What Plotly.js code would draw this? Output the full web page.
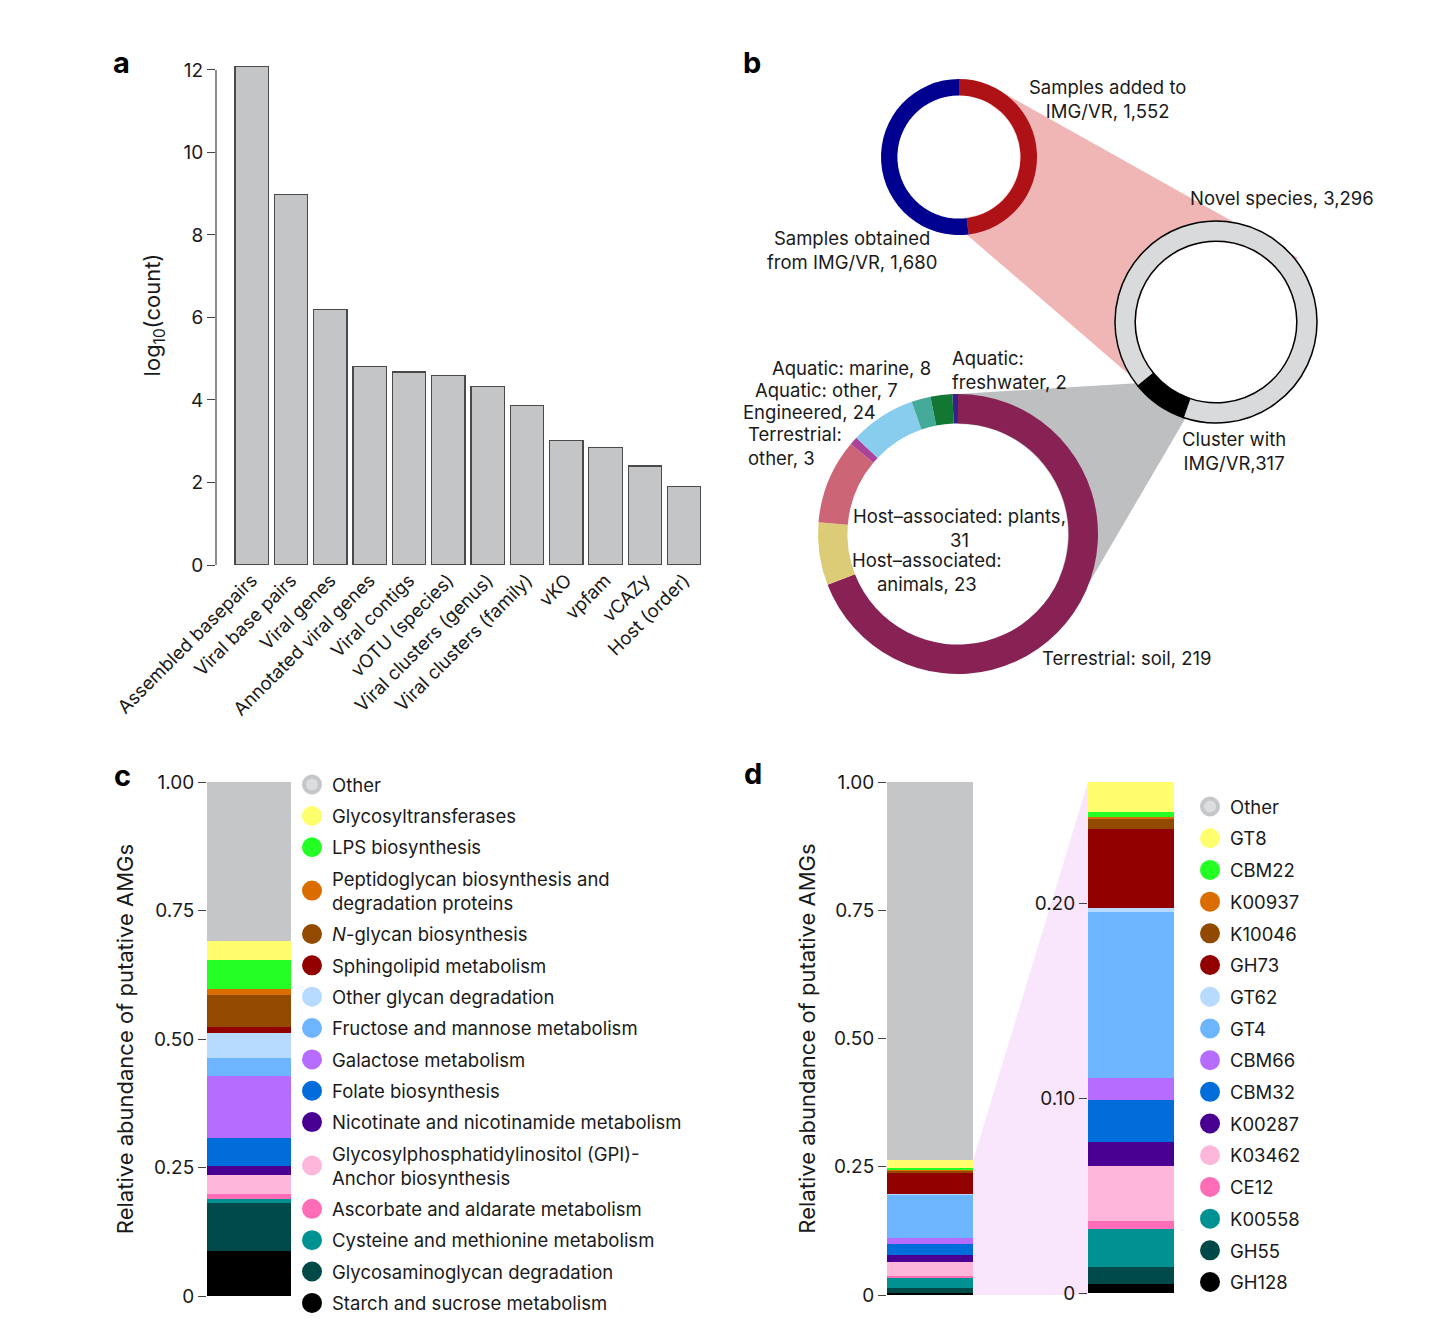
<!DOCTYPE html>
<html><head><meta charset="utf-8">
<script src="https://cdn.plot.ly/plotly-3.0.1.min.js"></script>
<style>html,body{margin:0;padding:0;background:#fff}#chart{width:1434px;height:1332px}</style>
</head><body><div id="chart"></div>
<script>
// ---------- DATA ----------
// Panel a
const aCategories = ["Assembled basepairs","Viral base pairs","Viral genes","Annotated viral genes","Viral contigs","vOTU (species)","Viral clusters (genus)","Viral clusters (family)","vKO","vpfam","vCAZy","Host (order)"];
const aLog10Count = [12.09, 8.98, 6.19, 4.82, 4.68, 4.59, 4.32, 3.87, 3.02, 2.84, 2.40, 1.91];
const aTicks = [0, 2, 4, 6, 8, 10, 12];

// Panel b
const sampleLabels = ["Samples added to IMG/VR", "Samples obtained from IMG/VR"];
const sampleCounts = [1552, 1680];
const sampleColors = ["#AE1116", "#000090"];
const speciesLabels = ["Cluster with IMG/VR", "Novel species"];
const speciesCounts = [317, 3296];
const speciesColors = ["#000000", "#D9DADC"];
const ecoLabels = ["Terrestrial: soil","Host–associated: animals","Host–associated: plants","Terrestrial: other","Engineered","Aquatic: other","Aquatic: marine","Aquatic: freshwater"];
const ecoCounts = [219, 23, 31, 3, 24, 7, 8, 2];
const ecoColors = ["#882255","#DDCC77","#CC6677","#AA4499","#88CCEE","#44AA99","#117733","#332288"];

// Panel c
const cCategories = ["Other","Glycosyltransferases","LPS biosynthesis","Peptidoglycan biosynthesis and<br>degradation proteins","<i>N</i>-glycan biosynthesis","Sphingolipid metabolism","Other glycan degradation","Fructose and mannose metabolism","Galactose metabolism","Folate biosynthesis","Nicotinate and nicotinamide metabolism","Glycosylphosphatidylinositol (GPI)-<br>Anchor biosynthesis","Ascorbate and aldarate metabolism","Cysteine and methionine metabolism","Glycosaminoglycan degradation","Starch and sucrose metabolism"];
const cValues = [0.309, 0.038, 0.055, 0.013, 0.061, 0.013, 0.047, 0.036, 0.120, 0.056, 0.016, 0.038, 0.009, 0.008, 0.094, 0.087];

// Panel d
const dCategories = ["Other","GT8","CBM22","K00937","K10046","GH73","GT62","GT4","CBM66","CBM32","K00287","K03462","CE12","K00558","GH55","GH128"];
const dValues = [0.7378, 0.0156, 0.0026, 0.0005, 0.0053, 0.0404, 0.0025, 0.0851, 0.0114, 0.0211, 0.0125, 0.0281, 0.0042, 0.0195, 0.0090, 0.0044];

const palette = ["#C5C6C8","#FFFF6D","#24FF24","#DB6D00","#924900","#920000","#B6DBFF","#6DB6FF","#B66DFF","#006DDB","#490092","#FFB6DB","#FF6DB6","#009292","#004949","#000000"];
const legendPalette = ["#DCDDDF","#FFFF6D","#24FF24","#DB6D00","#924900","#920000","#B6DBFF","#6DB6FF","#B66DFF","#006DDB","#490092","#FFB6DB","#FF6DB6","#009292","#004949","#000000"];

const cTickVals = [0, 0.25, 0.5, 0.75, 1];
const cTickText = ["0", "0.25", "0.50", "0.75", "1.00"];
const dZoomTickVals = [0, 0.1, 0.2];
const dZoomTickText = ["0", "0.10", "0.20"];

// ---------- HELPERS ----------
const W = 1434, H = 1332;
const px = x => x / W;
const py = y => 1 - y / H;
const FONT = 'Inter, "Noto Sans", "DejaVu Sans", sans-serif';
const TXT = '#1a1a1a';
const FS = 18.5;

const traces = [];

// Panel a bars
traces.push({
  type: 'bar', x: aCategories, y: aLog10Count, width: 0.85,
  marker: {color: '#C4C5C7', line: {color: '#4a4a4a', width: 1.2}},
  xaxis: 'x', yaxis: 'y', showlegend: false, hoverinfo: 'x+y'
});

// Panel b donuts
const pieCommon = {type: 'pie', sort: false, direction: 'clockwise', textinfo: 'none', showlegend: false, hoverinfo: 'label+value'};
traces.push(Object.assign({}, pieCommon, {
  labels: sampleLabels, values: sampleCounts, hole: 0.79, rotation: 0,
  marker: {colors: sampleColors},
  domain: {x: [px(881), px(1037)], y: [py(235), py(79)]}
}));
traces.push(Object.assign({}, pieCommon, {
  labels: speciesLabels, values: speciesCounts, hole: 0.8, rotation: 199,
  marker: {colors: speciesColors, line: {color: '#000', width: 1.5}},
  domain: {x: [px(1115), px(1317)], y: [py(423), py(221)]}
}));
traces.push(Object.assign({}, pieCommon, {
  labels: ecoLabels, values: ecoCounts, hole: 0.79, rotation: 0,
  marker: {colors: ecoColors},
  domain: {x: [px(818), px(1098)], y: [py(674), py(394)]}
}));

// Panel c stacked bar (bottom first)
for (let i = cCategories.length - 1; i >= 0; i--) {
  traces.push({type: 'bar', x: ['c'], y: [cValues[i]], width: 1, name: cCategories[i],
    marker: {color: palette[i]}, xaxis: 'x2', yaxis: 'y2', showlegend: false});
}
// Panel d left bar
for (let i = dCategories.length - 1; i >= 0; i--) {
  traces.push({type: 'bar', x: ['d'], y: [dValues[i]], width: 1, name: dCategories[i],
    marker: {color: palette[i]}, xaxis: 'x3', yaxis: 'y3', showlegend: false});
}
// Panel d zoomed bar (without Other)
for (let i = dCategories.length - 1; i >= 1; i--) {
  traces.push({type: 'bar', x: ['z'], y: [dValues[i]], width: 1, name: dCategories[i],
    marker: {color: palette[i]}, xaxis: 'x4', yaxis: 'y4', showlegend: false});
}
const zoomTotal = dValues.slice(1).reduce((a, b) => a + b, 0);

// Legend entries
function legendEntry(name, i, legend, xa, ya) {
  const col = legendPalette[i];
  return {type: 'scatter', mode: 'markers', x: [null], y: [null], name: name,
    legend: legend, legendgroup: legend + i, xaxis: xa, yaxis: ya,
    marker: {symbol: 'circle', size: 16, color: col, line: {color: i === 0 ? '#C6C7C9' : col, width: 4}},
    showlegend: true, hoverinfo: 'skip'};
}
cCategories.forEach((n, i) => traces.push(legendEntry(n, i, 'legend', 'x2', 'y2')));
dCategories.forEach((n, i) => traces.push(legendEntry(n, i, 'legend2', 'x3', 'y3')));

// ---------- LAYOUT ----------
const hidden = {visible: false, showgrid: false, zeroline: false, range: [-0.5, 0.5]};
const yBase = {showgrid: false, zeroline: false, ticks: 'outside', ticklen: 8, tickcolor: '#444', tickwidth: 1.2,
  tickfont: {size: 19, color: TXT}, showline: false, fixedrange: true};

function ann(text, x, y, xanchor, align, extra) {
  return Object.assign({text: text, x: px(x), y: py(y), xref: 'paper', yref: 'paper', showarrow: false,
    xanchor: xanchor, yanchor: 'middle', align: align, font: {size: FS, color: TXT, family: FONT}}, extra || {});
}
function circ(cx, cy, r) {
  return {type: 'circle', xref: 'paper', yref: 'paper', layer: 'below', x0: px(cx - r), x1: px(cx + r),
    y0: py(cy + r), y1: py(cy - r), fillcolor: '#fff', line: {width: 0}};
}
function poly(pts, color) {
  const d = pts.map((p, k) => (k ? 'L' : 'M') + px(p[0]) + ',' + py(p[1])).join(' ') + ' Z';
  return {type: 'path', path: d, xref: 'paper', yref: 'paper', layer: 'below', fillcolor: color, line: {width: 0}};
}
const legendCommon = {xanchor: 'left', yanchor: 'top', traceorder: 'grouped',
  itemwidth: 30, font: {size: FS, color: TXT, family: FONT}, bgcolor: 'rgba(0,0,0,0)', itemclick: false, itemdoubleclick: false};
const bold = t => ann('<b>' + t[0] + '</b>', t[1], t[2], 'center', 'center', {font: {size: 29, color: '#000', family: FONT}});

const layout = {
  width: W, height: H, margin: {l: 0, r: 0, t: 0, b: 0},
  paper_bgcolor: '#fff', plot_bgcolor: 'rgba(0,0,0,0)',
  font: {family: FONT, size: FS, color: TXT},
  barmode: 'stack', showlegend: true, hovermode: 'closest',
  xaxis: {domain: [px(216), px(705)], range: [-0.91, 11.53], type: 'category', tickangle: -45,
    ticks: '', showline: false, showgrid: false, zeroline: false, tickfont: {size: 18.5, color: TXT}, anchor: 'y', fixedrange: true},
  yaxis: Object.assign({}, yBase, {domain: [py(565), py(65)], range: [0, 12.12], tickvals: aTicks, anchor: 'x',
    title: {text: 'log<sub>10</sub>(count)', font: {size: 22, color: TXT}, standoff: 16}}),
  xaxis2: Object.assign({}, hidden, {domain: [px(207), px(291)], anchor: 'y2'}),
  yaxis2: Object.assign({}, yBase, {domain: [py(1296), py(782)], range: [0, 1], tickvals: cTickVals, ticktext: cTickText, anchor: 'x2',
    title: {text: 'Relative abundance of putative AMGs', font: {size: 22, color: TXT}, standoff: 14}}),
  xaxis3: Object.assign({}, hidden, {domain: [px(887), px(973)], anchor: 'y3'}),
  yaxis3: Object.assign({}, yBase, {domain: [py(1295), py(782)], range: [0, 1], tickvals: cTickVals, ticktext: cTickText, anchor: 'x3',
    title: {text: 'Relative abundance of putative AMGs', font: {size: 22, color: TXT}, standoff: 12}}),
  xaxis4: Object.assign({}, hidden, {domain: [px(1088), px(1174)], anchor: 'y4'}),
  yaxis4: Object.assign({}, yBase, {domain: [py(1293), py(782)], range: [0, zoomTotal], tickvals: dZoomTickVals, ticktext: dZoomTickText, anchor: 'x4'}),
  legend: Object.assign({x: px(292), y: py(766), tracegroupgap: 4.3}, legendCommon),
  legend2: Object.assign({x: px(1190), y: py(788), tracegroupgap: 4.65}, legendCommon),
  shapes: [
    // panel a y-axis line, from 0 to 12
    {type: 'line', xref: 'paper', yref: 'y', x0: px(216), x1: px(216), y0: 0, y1: aTicks[aTicks.length - 1],
      line: {color: '#444', width: 1.2}},
    poly([[1000, 91], [1298, 258], [1140, 384], [966, 234], [960, 157]], '#F0B6B5'),
    poly([[958, 394], [1140, 383], [1185, 419], [1085, 590], [958, 534]], '#BEBFC1'),
    circ(959, 157, 61), circ(1216, 322, 80), circ(958, 534, 110),
    {type: 'path', xref: 'paper', yref: 'y3', layer: 'below', fillcolor: '#FAE6FC', line: {width: 0},
      path: 'M' + px(973) + ',' + (1 - dValues[0]) + ' L' + px(1088) + ',1 L' + px(1088) + ',0 L' + px(973) + ',0 Z'}
  ],
  annotations: [
    bold(['a', 121, 63]), bold(['b', 752, 63]), bold(['c', 122, 775]), bold(['d', 753, 773]),
    ann('Samples added to<br>IMG/VR, ' + sampleCounts[0].toLocaleString('en-US'), 1107, 99, 'center', 'center'),
    ann('Samples obtained<br>from IMG/VR, ' + sampleCounts[1].toLocaleString('en-US'), 852, 250, 'center', 'center'),
    ann('Novel species, ' + speciesCounts[1].toLocaleString('en-US'), 1282, 198, 'center', 'center'),
    ann('Cluster with<br>IMG/VR,' + speciesCounts[0], 1234, 451, 'center', 'center'),
    ann('Aquatic: marine, ' + ecoCounts[6], 933, 368, 'right', 'right'),
    ann('Aquatic: other, ' + ecoCounts[5], 900, 390, 'right', 'right'),
    ann('Engineered, ' + ecoCounts[4], 878, 412, 'right', 'right'),
    ann('Terrestrial:<br>other, ' + ecoCounts[3], 746, 446, 'left', 'left'),
    ann('Aquatic:<br>freshwater, ' + ecoCounts[7], 950, 370, 'left', 'left'),
    ann('Host–associated: plants,<br>' + ecoCounts[2], 959, 528, 'center', 'center'),
    ann('Host–associated:<br>animals, ' + ecoCounts[1], 927, 572, 'center', 'center'),
    ann('Terrestrial: soil, ' + ecoCounts[0], 1040, 658, 'left', 'left')
  ]
};

Plotly.newPlot('chart', traces, layout, {displayModeBar: false});
</script>
</body></html>
